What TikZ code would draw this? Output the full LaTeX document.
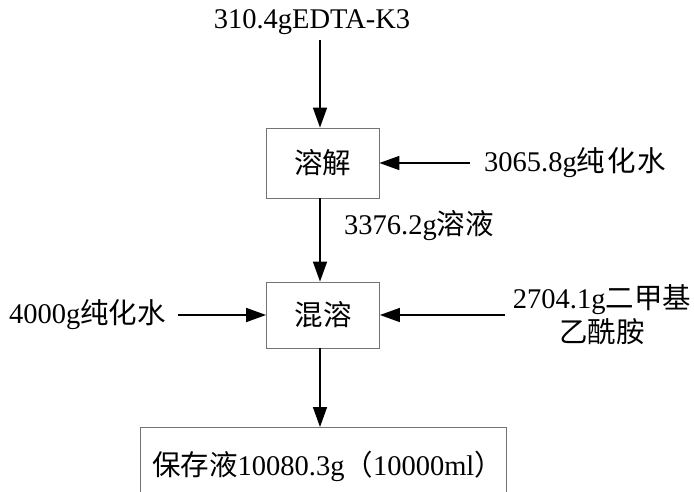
\documentclass[tikz,border=0pt]{standalone}
\usepackage{fontspec}
\setmainfont{Liberation Serif}
\newfontfamily\cjk{Noto Sans CJK SC}
\usetikzlibrary{arrows.meta}
\tikzset{
  boxst/.style={draw=black!55, line width=0.8pt, minimum width=113pt, minimum height=70pt, inner sep=0pt},
  arr/.style={line width=1.5pt, -{Triangle[length=20pt,width=14pt]}},
  lbl/.style={inner sep=0pt, align=center}
}
\begin{document}
\begin{tikzpicture}[x=1pt,y=-1pt,font=\fontsize{28.5}{34}\selectfont]
\useasboundingbox (0,0) rectangle (694,492);
\clip (0,0) rectangle (694,492);
\node[lbl] (top) at (312,22) {310.4gEDTA-K3};
\node[boxst] (dis) at (322.5,163) {\cjk 溶解};
\node[lbl, anchor=west] (water1) at (484,163) {3065.8g\cjk 纯\hspace{2pt}化\hspace{2pt}水};
\node[boxst, minimum height=66pt] (mix) at (323,315) {\cjk 混溶};
\node[lbl, anchor=east] (water2) at (166,315) {4000g\cjk 纯化水};
\node[lbl] (dma) at (602,315) {2704.1g\cjk 二甲基\\\cjk 乙酰胺};
\node[lbl, anchor=west] (sol) at (344,226) {3376.2g\cjk 溶液};
\draw[draw=black!55, line width=0.8pt] (140,560) |- (506,427) -- (506,560);
\coordinate (bt) at (320,427);
\node[lbl, anchor=west] (store) at (152,466) {\cjk 保存液\rmfamily 10080.3g\cjk（\rmfamily 10000ml\cjk）};
\coordinate (a1) at (320,40);
\coordinate (a2) at (470,163);
\coordinate (a3) at (178,315);
\coordinate (a4) at (505,315);
\draw[arr] (a1) -- (a1 |- dis.north);
\draw[arr] (a2) -- (dis.east);
\draw[arr] (dis.south -| a1) -- (a1 |- mix.north);
\draw[arr] (a3) -- (mix.west);
\draw[arr] (a4) -- (mix.east);
\draw[arr] (mix.south -| a1) -- (bt);
\end{tikzpicture}
\end{document}
